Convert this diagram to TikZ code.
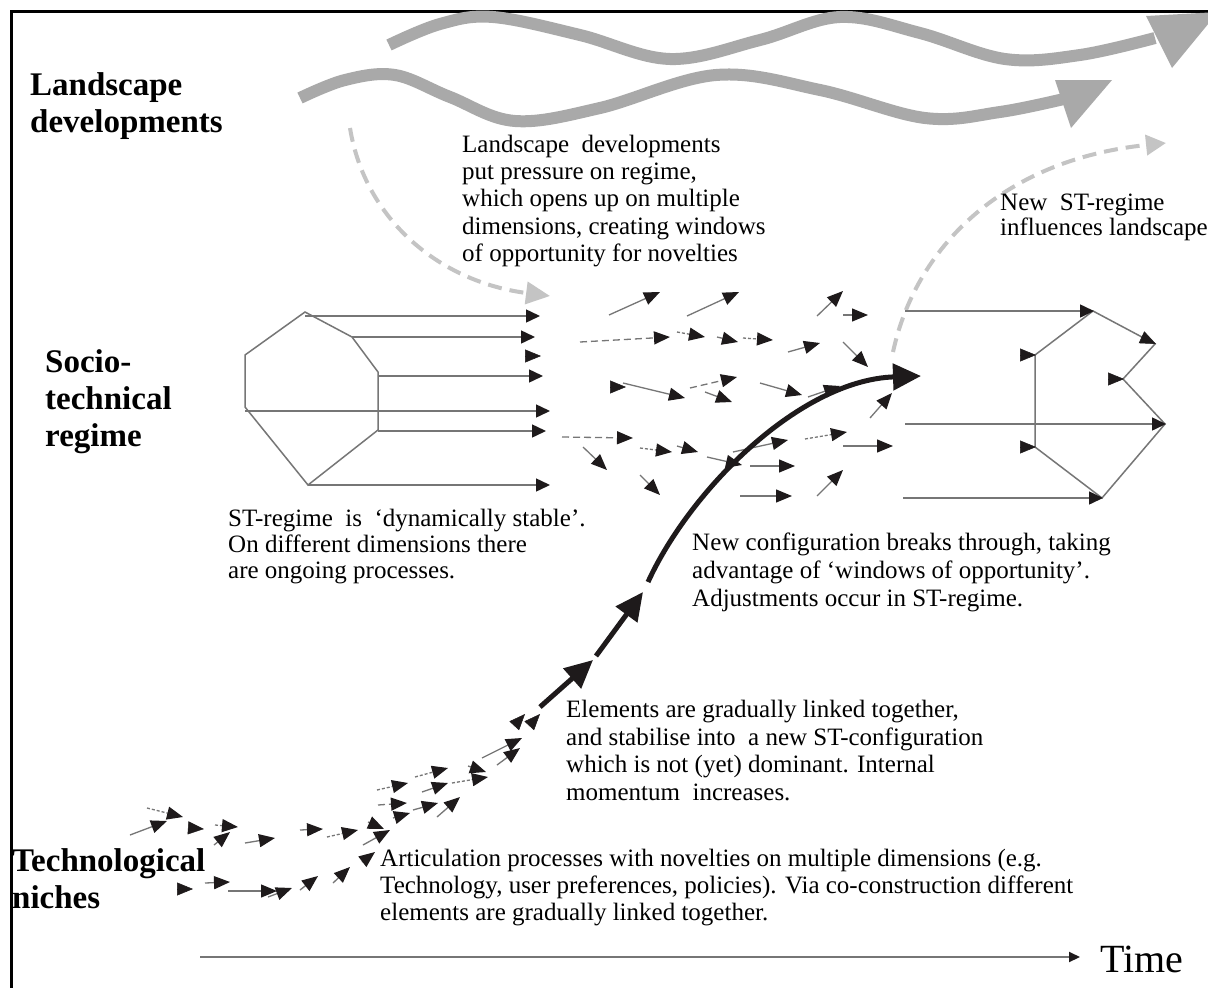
\documentclass[tikz,border=0pt]{standalone}
\usepackage{fontspec}
\setmainfont{Liberation Serif}
\usetikzlibrary{arrows.meta}
\definecolor{lgray}{HTML}{767676}
\definecolor{wgray}{HTML}{A9A9A9}
\definecolor{dgray}{HTML}{C4C4C4}
\definecolor{headc}{HTML}{1E1A1B}
\begin{document}
\begin{tikzpicture}[x=1pt,y=-1pt,
  sa/.style={draw=lgray,line width=1.3pt,-{Triangle[length=16pt,width=13pt,color=headc]}},
  ha/.style={draw=headc,line width=0.5pt,-{Triangle[length=16pt,width=13pt,color=headc]}},
  la/.style={draw=lgray,line width=1.5pt,-{Triangle[length=14pt,width=13pt,color=headc]}},
  ga/.style={draw=lgray,line width=1.5pt},
  dsh/.style={dash pattern=on 7pt off 4pt},
  dot/.style={dash pattern=on 3pt off 2pt},
  wave/.style={draw=wgray,line width=12pt},
  dgr/.style={draw=dgray,line width=4pt,dash pattern=on 14pt off 8pt},
  big/.style={draw=headc,line width=5pt},
  bigtip/.style={-{Triangle[length=28pt,width=26pt,color=headc]}},
  head/.style={font=\fontsize{33}{37}\selectfont\bfseries,align=left,anchor=north west,inner sep=0pt},
  body/.style={align=left,anchor=north west,inner sep=0pt}]
\useasboundingbox (0,0) rectangle (1208,988);
\fill[white] (0,0) rectangle (1208,988);
% frame
\draw[line width=3pt] (11,990) -- (11,11) -- (1210,11);

% landscape waves
\draw[wave] plot[smooth,tension=0.6] coordinates {(389,45) (440,24) (493,17) (580,35) (670,59) (760,40) (840,17) (920,33) (1005,59) (1080,55) (1155,38)};
\fill[wgray] (1146,16) -- (1218,12) -- (1172,68) -- cycle;
\draw[wave] plot[smooth,tension=0.6] coordinates {(300,98) (345,80) (395,75) (450,97) (515,121) (600,108) (716,75) (820,90) (925,118) (1000,112) (1068,98)};
\fill[wgray] (1055,80) -- (1112,80) -- (1071,128) -- cycle;

% dashed landscape influence arrows
\draw[dgr,-{Triangle[length=24pt,width=22pt,color=dgray]}] (350,128) .. controls (365,220) and (440,282) .. (550,296);
\draw[dgr,-{Triangle[length=20pt,width=20pt,color=dgray]}] (893,352) .. controls (915,250) and (1000,160) .. (1166,143);

% headings
\node[head] (hl) at (30,72) {Landscape\\developments};
\node[head] (hs) at (45,349) {Socio-\\technical\\regime};
\node[head] (hn) at (12,848) {Technological\\niches};

% texts
\node[body,font=\fontsize{25}{27.2}\selectfont] (t1) at (462,135) {Landscape\ \ developments\\put pressure on regime,\\which opens up on multiple\\dimensions, creating windows\\of opportunity for novelties};
\node[body,font=\fontsize{25}{25}\selectfont] (t2) at (1000,194) {New\ \ ST-regime\\influences landscape};
\node[body,font=\fontsize{25}{26}\selectfont] (t3) at (228,509) {ST-regime\ \ is\ \ `dynamically stable'.\\On different dimensions there\\are ongoing processes.};
\node[body,font=\fontsize{25}{28}\selectfont] (t4) at (692,533) {New configuration breaks through, taking\\advantage of `windows of opportunity'.\\Adjustments occur in ST-regime.};
\node[body,font=\fontsize{25}{27.7}\selectfont] (t5) at (566,700) {Elements are gradually linked together,\\and stabilise into\ \ a new ST-configuration\\which is not (yet) dominant. Internal\\momentum\ \ increases.};
\node[body,font=\fontsize{25}{27}\selectfont] (t6) at (380,849) {Articulation processes with novelties on multiple dimensions (e.g.\\Technology, user preferences, policies). Via co-construction different\\elements are gradually linked together.};

% time axis
\node[font=\fontsize{40}{44}\selectfont,anchor=base west,inner sep=0pt] (time) at (1100,972) {Time};
\coordinate (t0) at (200,957);
\draw[draw=lgray,line width=2pt,-{Triangle[length=11pt,width=10pt,color=headc]}] (t0) -- ([xshift=-20pt]time.west |- t0);

% left regime shape
\draw[ga] (305,312) -- (352,337) -- (378,372) -- (378,430) -- (308,485) -- (245,407) -- (245,355) -- cycle;
\draw[la] (305,316) -- (540,316);
\draw[la] (352,337) -- (535,337);
\draw[ha] (527,356) -- (541,356);
\draw[la] (378,376) -- (543,376);
\draw[la] (245,411) -- (550,411);
\draw[la] (378,431) -- (546,431);
\draw[la] (308,485) -- (550,485);

% right regime shape
\draw[ga] (1093,311) -- (1155,344) -- (1123,379) -- (1165,424) -- (1102,498) -- (1035,447) -- (1035,355) -- cycle;
\draw[la] (905,311) -- (1094,311);
\draw[la] (905,424) -- (1166,424);
\draw[la] (903,498) -- (1103,498);
\draw[ha] (1141,337) -- (1156,344);
\draw[ha] (1109,379) -- (1124,379);
\draw[ha] (1021,447) -- (1036,447);
\draw[ha] (1021,355) -- (1036,355);

% middle field of arrows
\foreach \a/\b/\c/\d in {609/315/660/292, 687/316/739/292, 817/316/843/291, 843/315/868/315,
  717/337/738/342, 788/352/820/343, 843/342/868/367, 623/383/685/398, 705/392/732/402,
  760/383/802/395, 808/397/840/386, 870/418/892/393, 583/447/607/470, 677/446/698/452,
  707/457/742/465, 733/452/788/440, 750/466/795/466, 843/446/893/446, 640/475/660/495,
  740/496/792/496, 817/496/843/470}
  \draw[sa] (\a,\b) -- (\c,\d);
\foreach \a/\b/\c/\d in {580/342/670/337, 690/388/737/377, 562/437/633/438}
  \draw[sa,dsh] (\a,\b) -- (\c,\d);
\foreach \a/\b/\c/\d in {677/332/705/337, 743/338/773/340, 640/448/672/452, 805/439/847/432}
  \draw[sa,dot] (\a,\b) -- (\c,\d);
\draw[ha] (610,387) -- (626,387);

% niche arrows
\foreach \a/\b/\c/\d in {130/835/167/821, 214/845/230/832, 245/843/275/838, 300/830/323/829,
  363/845/390/830, 368/822/384/829, 393/818/410/813, 413/810/438/803, 437/817/460/797,
  422/792/448/783, 468/766/486/772, 482/758/522/738, 497/765/520/748,
  205/883/230/882, 228/891/277/891, 268/897/292/888, 300/890/318/876, 333/883/350/867, 362/862/375/852}
  \draw[sa] (\a,\b) -- (\c,\d);
\foreach \a/\b/\c/\d in {147/808/183/817, 215/825/238/827, 327/837/358/830, 377/790/408/783,
  415/777/448/768, 452/783/488/777}
  \draw[sa,dot] (\a,\b) -- (\c,\d);
\draw[sa,dsh] (378,805) -- (407,803);
\draw[ha] (190,828) -- (204,829);
\draw[ha] (178,889) -- (193,889);
\draw[ha] (514,726) -- (525,714);
\draw[ha] (529,726) -- (540,714);

% breakthrough curve
\draw[big,bigtip] (540,707) -- (593,660);
\draw[big,bigtip] (596,656) -- (643,592);
\draw[big,bigtip] (648,582) .. controls (690,490) and (800,380) .. (921,376);
\end{tikzpicture}
\end{document}
